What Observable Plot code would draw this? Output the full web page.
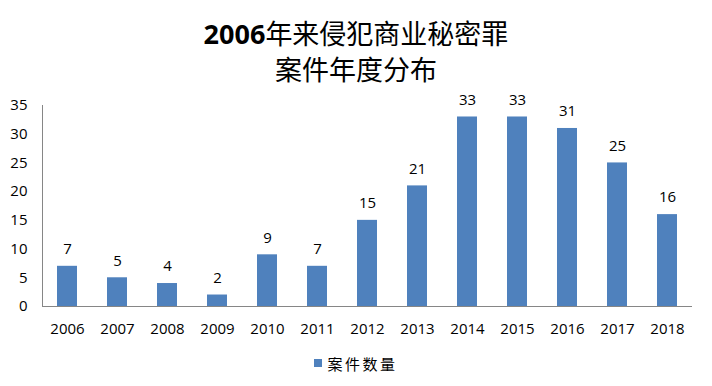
<!DOCTYPE html>
<html>
<head>
<meta charset="utf-8">
<script src="https://cdn.jsdelivr.net/npm/d3@7"></script>
<script src="https://cdn.jsdelivr.net/npm/@observablehq/plot@0.6"></script>
<style>
  html, body { margin: 0; padding: 0; background: #fff; }
  #wrap { width: 712px; height: 386px; overflow: hidden; }
  #title { height: 90px; box-sizing: border-box; padding-top: 15px; text-align: center;
           font-family: "Noto Sans CJK SC", "Open Sans", sans-serif; font-size: 27px; line-height: 35px; color: #000; }
  #title .num { font-family: "Open Sans", sans-serif; font-weight: bold; }
  #legend { height: 46px; display: flex; justify-content: center; align-items: center; padding-bottom: 0px;
            font-family: "Noto Sans CJK SC", sans-serif; font-size: 15px; letter-spacing: 2.5px; color: #000; }
  #legend .sw { width: 8px; height: 8px; background: #4F81BD; margin-right: 5px; }
</style>
</head>
<body>
<div id="wrap">
  <div id="title"><span class="num">2006</span>年来侵犯商业秘密罪<br>案件年度分布</div>
  <div id="chart"></div>
  <div id="legend"><div class="sw"></div><span id="legendLabel"></span></div>
</div>
<script>
const years = ["2006","2007","2008","2009","2010","2011","2012","2013","2014","2015","2016","2017","2018"];
const cases = [7, 5, 4, 2, 9, 7, 15, 21, 33, 33, 31, 25, 16];
const yTicks = [0, 5, 10, 15, 20, 25, 30, 35];
const seriesName = "案件数量";

const data = years.map((y, i) => ({year: y, value: cases[i]}));
document.getElementById("legendLabel").textContent = seriesName;

const chart = Plot.plot({
  width: 712,
  height: 250,
  marginTop: 15,
  marginBottom: 34,
  marginLeft: 42,
  marginRight: 20,
  style: {fontFamily: "'Open Sans', sans-serif", fontSize: "15px", color: "#000", background: "#fff"},
  x: {domain: years, paddingInner: 0.6, paddingOuter: 0.3, label: null},
  y: {domain: [0, 35], label: null},
  marks: [
    Plot.barY(data, {x: "year", y: "value", fill: "#4F81BD"}),
    Plot.frame({anchor: "left", stroke: "#868686"}),
    Plot.ruleY([0], {stroke: "#868686"}),
    Plot.axisY(yTicks, {tickSize: 0, tickPadding: 15, fontSize: 15, label: null}),
    Plot.axisX({tickSize: 0, tickPadding: 17, fontSize: 15, label: null}),
    Plot.text(data, {x: "year", y: "value", text: d => String(d.value), dy: -17, fontSize: 15, fill: "#000"})
  ]
});
document.getElementById("chart").appendChild(chart);
</script>
</body>
</html>
